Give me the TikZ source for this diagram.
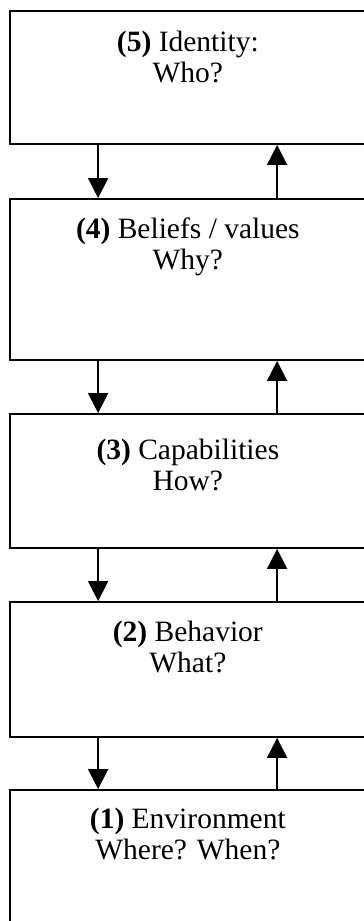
\documentclass[tikz,border=0pt]{standalone}
\usepackage{fontspec}
\setmainfont{Liberation Serif}
\usetikzlibrary{arrows.meta}

\begin{document}
\begin{tikzpicture}[x=1pt,y=1pt,
  box/.style={draw, rectangle, line width=1.8pt, minimum width=356.3pt, inner sep=0pt},
  lbl/.style={align=center, inner sep=0pt, anchor=north, font=\fontsize{29.5}{31}\selectfont},
  link/.style={line width=1.8pt, -{Triangle[width=20pt,length=20pt]}}]
\useasboundingbox (0,0) rectangle (364,-921);
\clip (0,0) rectangle (364,-921);

\node[box, minimum height=133pt] (b5) at (187.85,-77.5) {};
\node[box, minimum height=161pt] (b4) at (187.85,-279.5) {};
\node[box, minimum height=134pt] (b3) at (187.85,-481) {};
\node[box, minimum height=135pt] (b2) at (187.85,-669.5) {};
\node[box, minimum height=160pt] (b1) at (187.85,-870) {};

\node[lbl] (t5) at ([yshift=-21pt]b5.north) {\textbf{(5)} Identity:\\Who?};
\node[lbl] (t4) at ([yshift=-19pt]b4.north) {\textbf{(4)} Beliefs / values\\Why?};
\node[lbl] (t3) at ([yshift=-26pt]b3.north) {\textbf{(3)} Capabilities\\How?};
\node[lbl] (t2) at ([yshift=-20pt]b2.north) {\textbf{(2)} Behavior\\What?};
\node[lbl] (t1) at ([yshift=-19pt]b1.north) {\textbf{(1)} Environment\\Where? When?};

% down: top to bottom, up: bottom to top
\draw[link] ([xshift=89.3pt]b5.south west) -- ([xshift=89.3pt]b4.north west);
\draw[link] ([xshift=89.3pt]b4.south west) -- ([xshift=89.3pt]b3.north west);
\draw[link] ([xshift=89.3pt]b3.south west) -- ([xshift=89.3pt]b2.north west);
\draw[link] ([xshift=89.3pt]b2.south west) -- ([xshift=89.3pt]b1.north west);

\draw[link] ([xshift=268.3pt]b4.north west) -- ([xshift=268.3pt]b5.south west);
\draw[link] ([xshift=268.3pt]b3.north west) -- ([xshift=268.3pt]b4.south west);
\draw[link] ([xshift=268.3pt]b2.north west) -- ([xshift=268.3pt]b3.south west);
\draw[link] ([xshift=268.3pt]b1.north west) -- ([xshift=268.3pt]b2.south west);
\end{tikzpicture}
\end{document}
